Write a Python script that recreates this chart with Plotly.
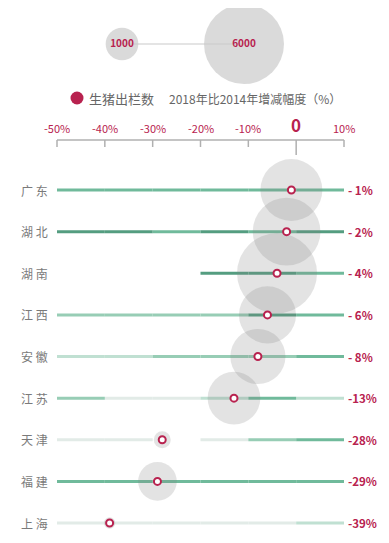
import plotly.graph_objects as go

# ---------------- data ----------------
provinces = ["广 东", "湖 北", "湖 南", "江 西", "安 徽", "江 苏", "天 津", "福 建", "上 海"]
change_pct = [-1, -2, -4, -6, -8, -13, -28, -29, -39]
change_labels = ["- 1%", "- 2%", "- 4%", "- 6%", "- 8%", "-13%", "-28%", "-29%", "-39%"]
pig_output = [3600, 4300, 6000, 3050, 2850, 2600, 270, 1400, 120]  # 生猪出栏数 (万头, estimated)
segment_edges = [-50, -40, -30, -20, -10, 0, 10]
segment_levels = [
    [4, 4, 4, 4, 4, 4],
    [5, 5, 4, 5, 4, 5],
    [0, 0, 0, 5, 5, 4],
    [3, 3, 3, 3, 5, 4],
    [2, 2, 3, 3, 3, 4],
    [3, 1, 1, 2, 4, 2],
    [1, 1, 0, 1, 3, 4],
    [4, 4, 4, 4, 4, 4],
    [1, 1, 1, 1, 1, 2],
]
tick_values = [-50, -40, -30, -20, -10, 0, 10]
tick_labels = ["-50%", "-40%", "-30%", "-20%", "-10%", "0", "10%"]
legend_sizes = [1000, 6000]
legend_size_labels = ["1000", "6000"]

# ---------------- styling ----------------
OFF = 8  # default page body margin
W, H = 389 - OFF, 543 - OFF
CRIMSON = "#b8224f"
FONT = "Noto Sans CJK SC"
level_colors = {1: "#e2ebe7", 2: "#c0e0d2", 3: "#97cdb5", 4: "#70ba9b", 5: "#549d80"}

# x mapping (window px): -50 -> 57px, 10 -> 344px
px_per_unit = (344 - 57) / 60.0
x0 = -50 - (57 - OFF) / px_per_unit
x1 = x0 + W / px_per_unit
# y mapping (window px): row 0 -> 190px, row 8 -> 523px
row_px0, row_gap = 190 - OFF, (523 - 190) / 8.0
y_top = -row_px0 / row_gap
y_bot = (H - row_px0) / row_gap


def px_x(p):
    return x0 + (p - OFF) / px_per_unit


def px_y(p):
    return (p - OFF - row_px0) / row_gap


max_d = 80.0
sizeref = 2.0 * max(legend_sizes) / (max_d ** 2)

fig = go.Figure()

rows = list(range(len(provinces)))

# segmented lines
for lvl, col in level_colors.items():
    xs, ys = [], []
    for r, levels in enumerate(segment_levels):
        for k, lv in enumerate(levels):
            if lv == lvl:
                xs += [segment_edges[k], segment_edges[k + 1], None]
                ys += [r, r, None]
    if xs:
        fig.add_trace(go.Scatter(x=xs, y=ys, mode="lines",
                                 line=dict(color=col, width=3),
                                 hoverinfo="skip", showlegend=False))

# bubbles
fig.add_trace(go.Scatter(
    x=change_pct, y=rows, mode="markers",
    marker=dict(size=pig_output, sizemode="area", sizeref=sizeref,
                color="rgba(128,128,128,0.32)", line=dict(width=0)),
    cliponaxis=False, showlegend=False, hoverinfo="skip"))

# dots
fig.add_trace(go.Scatter(
    x=change_pct, y=rows, mode="markers",
    marker=dict(size=7, color="white", line=dict(color=CRIMSON, width=2)),
    cliponaxis=False, showlegend=False, hoverinfo="skip"))

# legend bubbles (top)
leg_x = [px_x(122), px_x(244)]
leg_y = [px_y(44), px_y(44)]
fig.add_trace(go.Scatter(x=leg_x, y=leg_y, mode="lines",
                         line=dict(color="#e4e4e4", width=2),
                         showlegend=False, hoverinfo="skip"))
fig.add_trace(go.Scatter(
    x=leg_x, y=leg_y, mode="markers+text",
    marker=dict(size=legend_sizes, sizemode="area", sizeref=sizeref,
                color="#cbcbcb", line=dict(width=0)),
    text=["<b>" + t + "</b>" for t in legend_size_labels], textposition="middle center",
    textfont=dict(color=CRIMSON, size=10, family=FONT),
    cliponaxis=False, showlegend=False, hoverinfo="skip"))

# legend dot
fig.add_trace(go.Scatter(x=[px_x(77)], y=[px_y(98)], mode="markers",
                         marker=dict(size=13, color=CRIMSON),
                         showlegend=False, hoverinfo="skip", cliponaxis=False))

shapes = []
# axis line and ticks
ax_y = px_y(140)
shapes.append(dict(type="line", x0=tick_values[0], x1=tick_values[-1], y0=ax_y, y1=ax_y,
                   line=dict(color="#b0b0b0", width=1.5), layer="below"))
for tv in tick_values:
    bottom = px_y(155) if tv == 0 else px_y(147)
    shapes.append(dict(type="line", x0=tv, x1=tv, y0=ax_y, y1=bottom,
                       line=dict(color="#b0b0b0", width=1.5), layer="below"))

annotations = []
for tv, tl in zip(tick_values, tick_labels):
    if tv == 0:
        annotations.append(dict(x=tv, y=px_y(124), text="<b>0</b>", showarrow=False,
                                font=dict(color=CRIMSON, size=17, family=FONT),
                                xanchor="center", yanchor="middle"))
    else:
        annotations.append(dict(x=tv, y=px_y(128), text=tl, showarrow=False,
                                font=dict(color=CRIMSON, size=11, family=FONT),
                                xanchor="center", yanchor="middle"))

for r, (p, lab) in enumerate(zip(provinces, change_labels)):
    annotations.append(dict(x=px_x(50), y=r, text=p, showarrow=False,
                            font=dict(color="#7a7a7a", size=12, family=FONT),
                            xanchor="right", yanchor="middle"))
    annotations.append(dict(x=px_x(346), y=r, text="<b>" + lab + "</b>", showarrow=False,
                            font=dict(color=CRIMSON, size=11.5, family=FONT),
                            xanchor="left", yanchor="middle"))

annotations.append(dict(x=px_x(87), y=px_y(98), text="生猪出栏数", showarrow=False,
                        font=dict(color="#666666", size=13, family=FONT),
                        xanchor="left", yanchor="middle"))
annotations.append(dict(x=px_x(167), y=px_y(98), text="2018年比2014年增减幅度（%）", showarrow=False,
                        font=dict(color="#666666", size=12, family=FONT),
                        xanchor="left", yanchor="middle"))

fig.update_layout(
    width=W, height=H,
    margin=dict(l=0, r=0, t=0, b=0),
    paper_bgcolor="white", plot_bgcolor="white",
    xaxis=dict(range=[x0, x1], visible=False, fixedrange=True),
    yaxis=dict(range=[y_bot, y_top], visible=False, fixedrange=True),
    shapes=shapes, annotations=annotations,
    showlegend=False,
)

fig.write_html("out.html", config={"displayModeBar": False})
